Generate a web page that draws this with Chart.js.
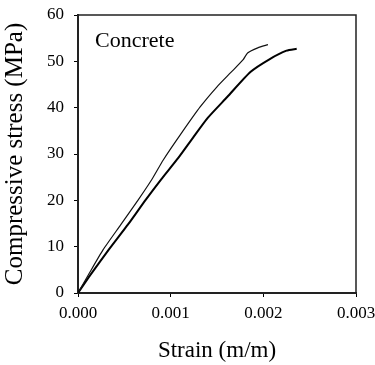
<!DOCTYPE html>
<html>
<head>
<meta charset="utf-8">
<script src="https://cdn.jsdelivr.net/npm/chart.js@4"></script>
<style>
  body { margin: 0; background: #fff; }
  #wrap { width: 375px; height: 365px; }
</style>
</head>
<body>
<div id="wrap"><canvas id="stressChart"></canvas></div>
<script>
// upper (thin) curve
const strainA = [0, 0.00012, 0.00027, 0.00046, 0.00065, 0.00080, 0.00092, 0.00112, 0.00132, 0.00150, 0.00165, 0.00178, 0.00183, 0.00194, 0.00205];
const stressA = [0, 4.2, 9.3, 14.7, 20.1, 24.6, 28.7, 34.6, 40.2, 44.5, 47.6, 50.3, 51.8, 52.9, 53.6];
// lower (thick) curve
const strainB = [0, 0.00013, 0.00033, 0.00054, 0.00073, 0.00090, 0.00108, 0.00124, 0.00140, 0.00161, 0.00186, 0.00207, 0.00225, 0.00236];
const stressB = [0, 3.8, 9.3, 14.8, 20.1, 24.6, 29.1, 33.5, 37.8, 42.3, 47.7, 50.5, 52.3, 52.7];

const xTicks = [0, 0.001, 0.002, 0.003];
const yTicks = [0, 10, 20, 30, 40, 50, 60];
const label = 'Concrete';

const serif = '"Liberation Serif", "Times New Roman", serif';

function toPoints(xs, ys) {
    return xs.map((x, i) => ({ x: x, y: ys[i] }));
}

const frameAndLabel = {
    id: 'frameAndLabel',
    afterDraw(chart) {
        const { ctx, chartArea } = chart;
        ctx.save();
        ctx.strokeStyle = '#222';
        ctx.lineWidth = 1.5;
        ctx.beginPath();
        ctx.moveTo(chartArea.left, chartArea.top);
        ctx.lineTo(chartArea.right, chartArea.top);
        ctx.lineTo(chartArea.right, chartArea.bottom);
        ctx.stroke();
        ctx.fillStyle = '#000';
        ctx.font = '22px ' + serif;
        ctx.textBaseline = 'alphabetic';
        ctx.fillText(label, chartArea.left + 17, chartArea.top + 32);
        ctx.restore();
    }
};

new Chart(document.getElementById('stressChart'), {
    type: 'line',
    data: {
        datasets: [{
            data: toPoints(strainA, stressA),
            borderColor: '#111',
            borderWidth: 1.2,
            pointRadius: 0,
            tension: 0.2
        }, {
            data: toPoints(strainB, stressB),
            borderColor: '#000',
            borderWidth: 2,
            pointRadius: 0,
            tension: 0.2
        }]
    },
    options: {
        responsive: true,
        maintainAspectRatio: false,
        animation: false,
        layout: { padding: { top: 15, right: 19, left: 0, bottom: 0 } },
        plugins: {
            legend: { display: false },
            tooltip: { enabled: false }
        },
        scales: {
            x: {
                type: 'linear',
                min: 0,
                max: 0.003,
                afterBuildTicks: function(scale) {
                    scale.ticks = xTicks.map(v => ({ value: v }));
                },
                afterFit: function(scale) {
                    scale.height = 72;
                    scale.paddingRight = 0;
                    scale.paddingLeft = 0;
                },
                ticks: {
                    color: '#000',
                    padding: 6,
                    font: { family: serif, size: 17 },
                    callback: function(value) { return Number(value).toFixed(3); }
                },
                grid: { drawOnChartArea: false, tickLength: 4, color: '#000' },
                border: { display: true, color: '#222', width: 2 },
                title: {
                    display: true,
                    text: 'Strain (m/m)',
                    color: '#000',
                    padding: { top: 4, bottom: 0 },
                    font: { family: serif, size: 23 }
                }
            },
            y: {
                min: 0,
                max: 60,
                afterBuildTicks: function(scale) {
                    scale.ticks = yTicks.map(v => ({ value: v }));
                },
                afterFit: function(scale) {
                    scale.width = 78;
                    scale.paddingTop = 0;
                    scale.paddingBottom = 0;
                },
                ticks: {
                    color: '#000',
                    padding: 10,
                    font: { family: serif, size: 17 }
                },
                grid: { drawOnChartArea: false, tickLength: 4, color: '#000' },
                border: { display: true, color: '#222', width: 2 },
                title: {
                    display: true,
                    text: 'Compressive stress (MPa)',
                    color: '#000',
                    padding: { top: 0, bottom: 2 },
                    font: { family: serif, size: 25 }
                }
            }
        }
    },
    plugins: [frameAndLabel]
});
</script>
</body>
</html>
